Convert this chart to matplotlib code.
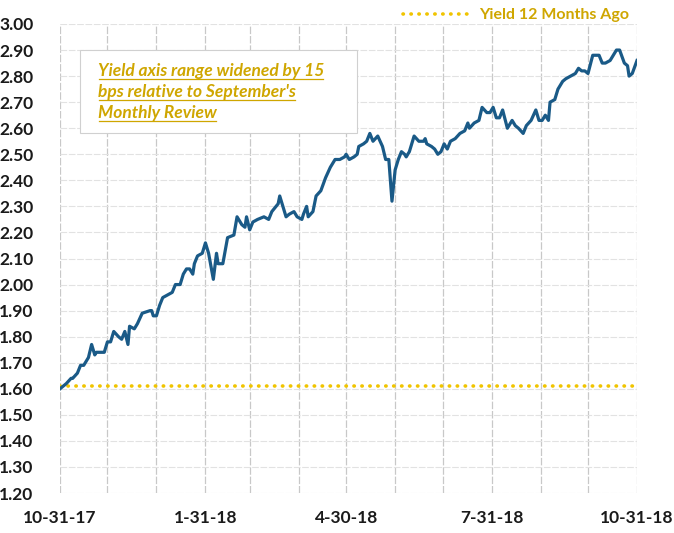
import numpy as np
import pandas as pd
import matplotlib
matplotlib.use("Agg")
import matplotlib.pyplot as plt
from matplotlib.patches import Rectangle
from matplotlib.lines import Line2D

plt.rcParams['font.family'] = ['Lato', 'DejaVu Sans']

# 10-year yield, Oct 2017 - Oct 2018
dates = [
    '2017-10-31', '2017-11-04', '2017-11-07', '2017-11-08', '2017-11-11', '2017-11-13',
    '2017-11-15', '2017-11-18', '2017-11-20', '2017-11-22', '2017-11-23', '2017-11-25',
    '2017-11-28', '2017-11-30', '2017-12-02', '2017-12-04', '2017-12-07', '2017-12-09',
    '2017-12-11', '2017-12-13', '2017-12-14', '2017-12-17', '2017-12-19', '2017-12-22',
    '2017-12-27', '2017-12-28', '2017-12-29', '2017-12-31', '2018-01-02', '2018-01-04',
    '2018-01-07', '2018-01-10', '2018-01-12', '2018-01-15', '2018-01-17', '2018-01-19',
    '2018-01-21', '2018-01-23', '2018-01-24', '2018-01-26', '2018-01-29', '2018-01-31',
    '2018-02-02', '2018-02-05', '2018-02-07', '2018-02-08', '2018-02-11', '2018-02-14',
    '2018-02-18', '2018-02-20', '2018-02-23', '2018-02-25', '2018-02-26', '2018-02-28',
    '2018-03-02', '2018-03-05', '2018-03-09', '2018-03-12', '2018-03-14', '2018-03-18',
    '2018-03-19', '2018-03-21', '2018-03-23', '2018-03-25', '2018-03-28', '2018-03-30',
    '2018-04-02', '2018-04-03', '2018-04-05', '2018-04-06', '2018-04-09', '2018-04-11',
    '2018-04-14', '2018-04-17', '2018-04-20', '2018-04-23', '2018-04-26', '2018-04-29',
    '2018-04-30', '2018-05-02', '2018-05-05', '2018-05-07', '2018-05-08', '2018-05-11',
    '2018-05-13', '2018-05-15', '2018-05-17', '2018-05-20', '2018-05-23', '2018-05-25',
    '2018-05-27', '2018-05-29', '2018-05-31', '2018-06-02', '2018-06-04', '2018-06-06',
    '2018-06-07', '2018-06-09', '2018-06-12', '2018-06-15', '2018-06-18', '2018-06-19',
    '2018-06-20', '2018-06-23', '2018-06-25', '2018-06-27', '2018-06-29', '2018-07-01',
    '2018-07-03', '2018-07-05', '2018-07-08', '2018-07-11', '2018-07-14', '2018-07-16',
    '2018-07-17', '2018-07-20', '2018-07-23', '2018-07-25', '2018-07-28', '2018-07-30',
    '2018-08-01', '2018-08-03', '2018-08-05', '2018-08-07', '2018-08-10', '2018-08-11',
    '2018-08-13', '2018-08-15', '2018-08-17', '2018-08-20', '2018-08-22', '2018-08-25',
    '2018-08-28', '2018-08-30', '2018-09-01', '2018-09-03', '2018-09-05', '2018-09-06',
    '2018-09-09', '2018-09-11', '2018-09-14', '2018-09-16', '2018-09-19', '2018-09-22',
    '2018-09-24', '2018-09-26', '2018-09-28', '2018-09-30', '2018-10-03', '2018-10-05',
    '2018-10-07', '2018-10-09', '2018-10-11', '2018-10-14', '2018-10-16', '2018-10-18',
    '2018-10-20', '2018-10-23', '2018-10-25', '2018-10-26', '2018-10-28', '2018-10-31',
]
yields = [
    1.60, 1.62, 1.64, 1.64, 1.66, 1.69,
    1.69, 1.72, 1.77, 1.73, 1.74, 1.74,
    1.74, 1.78, 1.78, 1.82, 1.80, 1.79,
    1.82, 1.77, 1.84, 1.83, 1.85, 1.89,
    1.90, 1.90, 1.88, 1.88, 1.92, 1.95,
    1.96, 1.97, 2.00, 2.00, 2.04, 2.06,
    2.06, 2.04, 2.08, 2.11, 2.12, 2.16,
    2.12, 2.02, 2.12, 2.08, 2.08, 2.18,
    2.19, 2.26, 2.23, 2.22, 2.26, 2.21,
    2.24, 2.25, 2.26, 2.25, 2.28, 2.31,
    2.34, 2.30, 2.26, 2.27, 2.28, 2.26,
    2.25, 2.27, 2.30, 2.26, 2.28, 2.34,
    2.36, 2.41, 2.45, 2.48, 2.48, 2.49,
    2.50, 2.48, 2.49, 2.50, 2.53, 2.54,
    2.55, 2.58, 2.55, 2.57, 2.53, 2.48,
    2.48, 2.32, 2.44, 2.48, 2.51, 2.50,
    2.49, 2.51, 2.57, 2.55, 2.55, 2.56,
    2.54, 2.53, 2.52, 2.50, 2.51, 2.54,
    2.52, 2.55, 2.56, 2.58, 2.59, 2.62,
    2.60, 2.62, 2.63, 2.68, 2.66, 2.66,
    2.68, 2.64, 2.64, 2.67, 2.60, 2.61,
    2.63, 2.61, 2.60, 2.58, 2.61, 2.63,
    2.67, 2.63, 2.63, 2.65, 2.63, 2.70,
    2.71, 2.75, 2.78, 2.79, 2.80, 2.81,
    2.83, 2.82, 2.82, 2.81, 2.88, 2.88,
    2.88, 2.85, 2.85, 2.86, 2.88, 2.90,
    2.90, 2.85, 2.84, 2.80, 2.81, 2.86,
]
year_ago_yield = 1.61

tick_dates = ['2017-10-31', '2018-01-31', '2018-04-30', '2018-07-31', '2018-10-31']
y_ticks = np.round(np.arange(1.20, 3.001, 0.10), 2)

note_lines = ["Yield axis range widened by 15",
              "bps relative to September's",
              "Monthly Review"]

BLUE = '#1a5a87'
GOLD = '#f0c400'
GOLD_TEXT = '#cfa600'
DOTS = (0, (0.1, 2.1))

dates = pd.to_datetime(dates)
tick_dates = pd.to_datetime(tick_dates)
start, end = tick_dates[0], tick_dates[-1]
month_ends = [start + pd.offsets.MonthEnd(k) for k in range(13)]

fig = plt.figure(figsize=(6.74, 5.33), dpi=100)
ax = fig.add_axes([60 / 674, 1 - 493 / 533, 577 / 674, 469 / 533])

ax.plot(dates, yields, color=BLUE, lw=2.3, zorder=4, solid_joinstyle='round')
ax.plot([start, end], [year_ago_yield, year_ago_yield], color=GOLD, lw=2.6,
        linestyle=DOTS, dash_capstyle='round', zorder=3)

ax.set_xlim(start, end)
ax.set_ylim(1.20, 3.00)
ax.set_yticks(y_ticks)
ax.set_yticklabels([f'{v:.2f}' for v in y_ticks])
ax.set_xticks(tick_dates)
ax.set_xticklabels([f'{d.month}-{d.day}-{d:%y}' for d in tick_dates])

# monthly vertical grid + faint horizontal grid
for d in month_ends:
    ax.axvline(d, color='#c8c8c8', lw=0.9, linestyle=(0, (6, 1.5)), zorder=1)
for v in y_ticks:
    ax.axhline(v, color='#e2e2e2', lw=0.8, linestyle=(0, (6, 1.5)), zorder=1)

for s in ax.spines.values():
    s.set_visible(False)
ax.tick_params(axis='both', length=0, labelsize=12.5, labelcolor='#1a1a1a')
ax.tick_params(axis='y', pad=19)
ax.tick_params(axis='x', pad=12)
for lab in ax.get_xticklabels() + ax.get_yticklabels():
    lab.set_fontweight('bold')

# note box
ax.add_patch(Rectangle((0.035, 0.768), 0.48, 0.177, transform=ax.transAxes,
                       facecolor='white', edgecolor='#d0d0d0', lw=0.8, zorder=5))
note_texts = []
for i, line in enumerate(note_lines):
    t = ax.text(0.066, 0.889 - i * 0.0448, line, transform=ax.transAxes,
                fontsize=12.5, fontweight='bold', fontstyle='italic',
                color=GOLD_TEXT, va='baseline', ha='left', zorder=6)
    note_texts.append(t)

# legend above the plot
handle = Line2D([], [], color=GOLD, lw=2.6, linestyle=DOTS, dash_capstyle='round')
leg = fig.legend([handle], ['Yield 12 Months Ago'], loc='center',
                 bbox_to_anchor=(516 / 674, 1 - 15 / 533), frameon=False,
                 handlelength=4.2, handletextpad=0.6,
                 prop={'size': 11.5, 'weight': 'bold'})
for t in leg.get_texts():
    t.set_color(GOLD_TEXT)

# underline the note text
fig.canvas.draw()
renderer = fig.canvas.get_renderer()
inv = fig.transFigure.inverted()
for t in note_texts:
    bb = t.get_window_extent(renderer)
    base = ax.transAxes.transform(t.get_position())[1]
    (x0, y0), (x1, _) = inv.transform([(bb.x0 + 1, base - 3), (bb.x1 - 1, base - 3)])
    fig.add_artist(Line2D([x0, x1], [y0, y0], color=GOLD_TEXT, lw=0.9,
                          transform=fig.transFigure, zorder=6))

fig.savefig('out.png', dpi=100)
